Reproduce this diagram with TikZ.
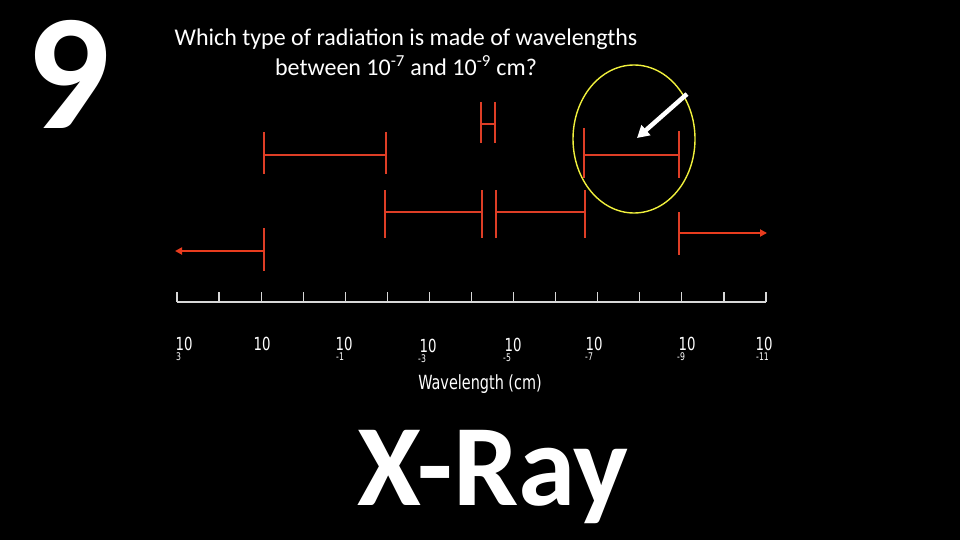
\documentclass[tikz,border=0pt]{standalone}
\usepackage{fontspec}
\setmainfont{Carlito}
\newfontfamily\labfont[FakeStretch=0.74]{DejaVu Sans}
\usetikzlibrary{arrows.meta,calc,shapes.geometric}
\definecolor{barred}{RGB}{222,62,38}
\definecolor{arrred}{RGB}{232,60,30}
\definecolor{ringyel}{RGB}{240,240,60}
\definecolor{axisgray}{RGB}{215,215,215}
\begin{document}
\begin{tikzpicture}[x=1pt,y=-1pt,
  bar/.style={draw=barred, line width=1.2pt},
  redarrow/.style={draw=arrred, line width=2.6pt, -{Triangle[length=7pt,width=7pt]}},
  lab/.style={text=white, font=\labfont\fontsize{18}{18}\selectfont, inner sep=0pt, text height=13pt, text depth=0pt},
  expo/.style={text=white, font=\labfont\fontsize{10.5}{10.5}\selectfont, inner sep=0pt, anchor=north west, text height=7.6pt, text depth=0pt},
  tickmark/.style={draw=axisgray, line width=1.2pt}]
\useasboundingbox (0,0) rectangle (960,540);
\fill[black] (0,0) rectangle (960,540);

% number and question
\node[text=white, font=\bfseries\fontsize{165}{165}\selectfont, inner sep=0pt] (num) at (68,74) {9};
\node[text=white, font=\fontsize{24}{30}\selectfont, align=center, inner sep=0pt] (q) at (406,52)
  {Which type of radiation is made of wavelengths\\between 10\textsuperscript{-7} and 10\textsuperscript{-9} cm?};

% axis
\coordinate (axL) at (177,302);
\coordinate (axR) at (766,302);
\draw[draw=axisgray, line width=2pt] (axL) -- (axR);
\foreach \i in {0,...,14} {
  \draw[tickmark] ($(axL)+(42.07*\i,0)$) -- ($(axL)+(42.07*\i,-10)$);
}

% axis labels
\node[lab] (l0) at (184,343.5) {10};
\node[expo] (e0) at (176,353) {3};
\node[lab] (l1) at (262,343.5) {10};
\node[lab] (l2) at (344,343.5) {10};
\node[expo] (e2) at (336,353) {-1};
\node[lab] (l3) at (428,345.5) {10};
\node[expo] (e3) at (418,355) {-3};
\node[lab] (l4) at (513,344.5) {10};
\node[expo] (e4) at (503,354) {-5};
\node[lab] (l5) at (594,343.5) {10};
\node[expo] (e5) at (585,353) {-7};
\node[lab] (l6) at (687,343.5) {10};
\node[expo] (e6) at (677,353) {-9};
\node[lab] (l7) at (764,343.5) {10};
\node[expo] (e7) at (756,353) {-11};
\node[text=white, font=\labfont\fontsize{19.5}{19.5}\selectfont, inner sep=0pt] (wl) at (480,384) {Wavelength (cm)};

% radio
\coordinate (rA) at (264,228); \coordinate (rB) at (264,271);
\coordinate (rS) at (264,251); \coordinate (rE) at (175,251);
\draw[bar] (rA) -- (rB);
\draw[redarrow] (rS) -- (rE);
% microwave
\coordinate (m1) at (264,155); \coordinate (m2) at (386,155);
\draw[bar] (264,132) -- (264,174);
\draw[bar] (386,132) -- (386,174);
\draw[bar] (m1) -- (m2);
% infrared
\coordinate (i1) at (385,212); \coordinate (i2) at (482,212);
\draw[bar] (385,190) -- (385,238);
\draw[bar] (482,190) -- (482,238);
\draw[bar] (i1) -- (i2);
% visible
\coordinate (v1) at (481,124); \coordinate (v2) at (495,124);
\draw[bar] (481,102) -- (481,143);
\draw[bar] (495,102) -- (495,143);
\draw[bar] (v1) -- (v2);
% ultraviolet
\coordinate (u1) at (496,212); \coordinate (u2) at (585,212);
\draw[bar] (496,190) -- (496,238);
\draw[bar] (585,190) -- (585,238);
\draw[bar] (u1) -- (u2);
% x-ray
\coordinate (x1) at (584,155); \coordinate (x2) at (679,155);
\draw[bar] (584,128) -- (584,178);
\draw[bar] (679,131) -- (679,178);
\draw[bar] (x1) -- (x2);
% gamma
\coordinate (gS) at (679,233); \coordinate (gE) at (767,233);
\draw[bar] (679,212) -- (679,255);
\draw[redarrow] (gS) -- (gE);

% highlight
\node[draw=ringyel, line width=1.4pt, ellipse, minimum width=122pt, minimum height=148pt, inner sep=0pt] (ring) at (634,139) {};
\coordinate (wa) at (687,94);
\coordinate (wb) at (637,138);
\draw[white, line width=4.5pt, -{Triangle[length=12pt,width=13pt]}] (wa) -- (wb);

% answer
\node[text=white, font=\bfseries\fontsize{116}{116}\selectfont, inner sep=0pt, anchor=base] (ans) at (493,505) {X-Ray};
\end{tikzpicture}
\end{document}
